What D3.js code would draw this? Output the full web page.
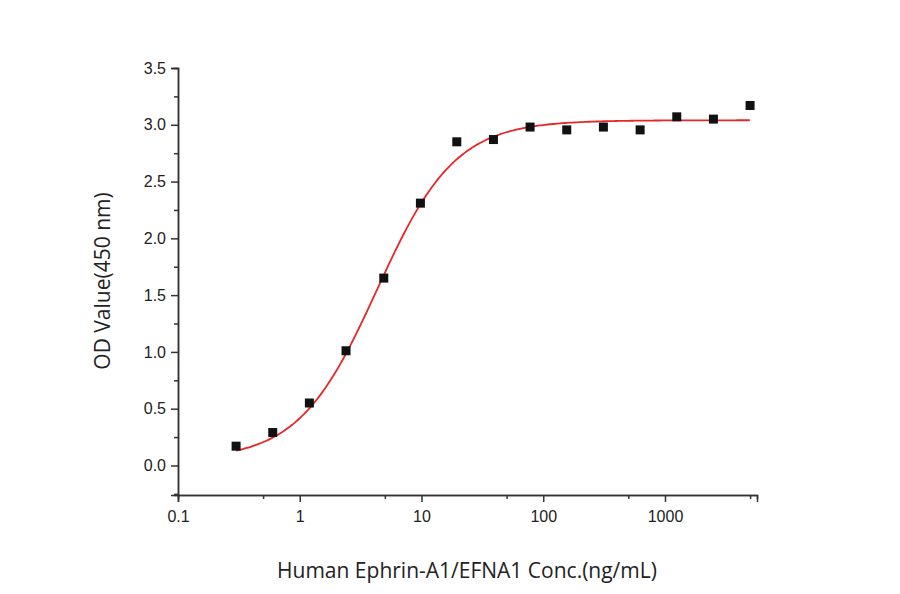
<!DOCTYPE html><html><head><meta charset="utf-8">
<script src="https://cdn.jsdelivr.net/npm/d3@7"></script>
<style>body{margin:0;background:#fff}svg{font-family:"Open Sans",sans-serif}.tick text{font-size:16px;fill:#222}</style></head><body>
<svg id="c" width="900" height="594"></svg>
<script>
const conc=[0.3,0.6,1.2,2.4,4.9,9.8,19.5,39,78,156,312,625,1250,2500,5000];
const od=[0.17,0.29,0.55,1.01,1.65,2.31,2.85,2.87,2.98,2.955,2.98,2.955,3.07,3.05,3.17];
const fit={bottom:0.05,top:3.04,ec50:4.3,hill:1.35};
const xTicks=[0.1,1,10,100,1000];
const yTicks=[0,0.5,1,1.5,2,2.5,3,3.5];
const svg=d3.select("#c");
const x=d3.scaleLog().domain([0.1,5700]).range([178,757]);
const y=d3.scaleLinear().domain([-0.26,3.5]).range([495,68]);
svg.append("g").attr("transform","translate(0,495)")
 .call(d3.axisBottom(x).tickValues(xTicks).tickFormat(d=>d3.format("~g")(d)).tickSizeOuter(0).tickSize(7).tickPadding(9));
svg.append("g").attr("transform","translate(0,495)")
 .call(d3.axisBottom(x).tickValues([0.5,5,50,500,5000]).tickFormat("").tickSizeOuter(0).tickSize(4));
svg.append("g").attr("transform","translate(178,0)")
 .call(d3.axisLeft(y).tickValues(yTicks).tickFormat(d3.format(".1f")).tickSizeOuter(0).tickSize(7).tickPadding(5));
svg.append("g").attr("transform","translate(178,0)")
 .call(d3.axisLeft(y).tickValues(d3.range(-0.25,3.5,0.5)).tickFormat("").tickSizeOuter(0).tickSize(4));
svg.selectAll(".domain").attr("stroke","#333").attr("stroke-width",1.5);
svg.selectAll(".tick line").attr("stroke","#333").attr("stroke-width",1.5);
const xs=d3.range(Math.log10(0.3),Math.log10(5000)+0.001,0.02).map(v=>10**v);
const f=c=>fit.bottom+(fit.top-fit.bottom)/(1+Math.pow(fit.ec50/c,fit.hill));
svg.append("path").datum(xs).attr("fill","none").attr("stroke","#e8262a").attr("stroke-width",1.8)
 .attr("d",d3.line().x(d=>x(d)).y(d=>y(f(d))));
svg.selectAll("rect.p").data(conc).join("rect").attr("class","p")
 .attr("x",(d)=>x(d)-4.5).attr("y",(d,i)=>y(od[i])-4.5).attr("width",9).attr("height",9).attr("fill","#111");
svg.append("text").attr("x",467).attr("y",578).attr("text-anchor","middle").style("font-size","21px").attr("fill","#222")
 .text("Human Ephrin-A1/EFNA1 Conc.(ng/mL)");
svg.append("text").attr("transform","translate(110,281) rotate(-90)").attr("text-anchor","middle").style("font-size","21px").attr("fill","#222")
 .text("OD Value(450 nm)");
</script></body></html>
